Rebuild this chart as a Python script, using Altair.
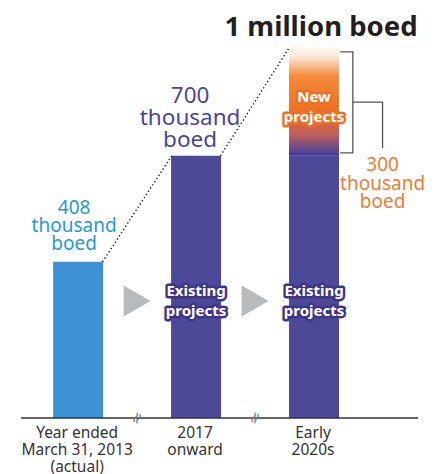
import altair as alt
import pandas as pd

# ---- data ----
categories = ["Year ended\nMarch 31, 2013\n(actual)", "2017\nonward", "Early\n2020s"]
positions = [0, 1, 2]
existing = [408, 700, 700]
new_projects = [0, 0, 300]
bar_kind = ["actual", "existing", "existing"]
value_labels = ["408\nthousand\nboed", "700\nthousand\nboed", "1 million boed"]
label_levels = [556, 864, 1051]
new_label = "300\nthousand\nboed"
new_label_level = 674
inner_labels = ["Existing\nprojects", "Existing\nprojects", "New\nprojects"]
inner_levels = [327, 327, 862]
axis_floor = -22
y_top = 1107

FONT = "Noto Sans"

xs = alt.Scale(domain=[-0.442, 2.839], nice=False, zero=False)
ys = alt.Scale(domain=[axis_floor, y_top], nice=False, zero=False)


def X(f):
    return alt.X(f, type="quantitative", scale=xs, axis=None)


def Y(f):
    return alt.Y(f, type="quantitative", scale=ys, axis=None)


bars_df = pd.DataFrame({
    "x": positions, "existing": existing, "kind": bar_kind,
    "floor": [axis_floor] * 3, "cat": categories,
})
bars_df["total"] = [e + n for e, n in zip(existing, new_projects)]

base_rule = alt.Chart(pd.DataFrame({"y": [axis_floor]})).mark_rule(
    color="#333333", strokeWidth=1.3
).encode(y=Y("y"), x=alt.value(0), x2=alt.value(397))

bars = alt.Chart(bars_df).mark_bar(size=50).encode(
    x=X("x"), y=Y("existing"), y2=alt.Y2("floor"),
    color=alt.Color("kind:N", scale=alt.Scale(domain=["actual", "existing"],
                                              range=["#3d92d5", "#4e4899"]), legend=None),
)

new_df = bars_df[bars_df["total"] > bars_df["existing"]]
grad = alt.Gradient(
    gradient="linear",
    stops=[
        alt.GradientStop(color="#fffbf8", offset=0),
        alt.GradientStop(color="#fde3d0", offset=0.1),
        alt.GradientStop(color="#f38a3c", offset=0.27),
        alt.GradientStop(color="#ef7325", offset=0.55),
        alt.GradientStop(color="#c0605a", offset=0.8),
        alt.GradientStop(color="#554895", offset=0.96),
        alt.GradientStop(color="#3b3588", offset=1),
    ],
    x1=0, x2=0, y1=0, y2=1,
)
new_bar = alt.Chart(new_df).mark_bar(size=50, color=grad).encode(
    x=X("x"), y=Y("total"), y2=alt.Y2("existing"),
)

# dotted connectors from top-right corner of one bar to top-left of the next
half = 25 / 121
dots_rows = []
tops = [e + n for e, n in zip(existing, new_projects)]
for i in range(len(positions) - 1):
    dots_rows.append({"seg": i, "o": 0, "x": positions[i] + half, "y": tops[i]})
    dots_rows.append({"seg": i, "o": 1, "x": positions[i + 1] - half, "y": tops[i + 1]})
dots = alt.Chart(pd.DataFrame(dots_rows)).mark_line(
    color="#222222", strokeWidth=1.4, strokeDash=[1.4, 2.4]
).encode(x=X("x"), y=Y("y"), detail="seg:N", order="o:Q")

# arrows and axis breaks between bars
mids = [0.5, 1.5]
arrows = alt.Chart(pd.DataFrame({"x": mids, "y": [300, 300]})).mark_point(
    shape="M-0.87,-1L0.87,0L-0.87,1Z", size=961, filled=True, color="#b9babc", opacity=1
).encode(x=X("x"), y=Y("y"))

breaks = alt.Chart(pd.DataFrame({"x": mids, "y": [axis_floor] * 2, "t": ["≈", "≈"]})).mark_text(
    font="DejaVu Sans", fontSize=16, color="#7a7a7a", angle=295, baseline="middle", align="center"
).encode(x=X("x"), y=Y("y"), text="t:N")

# bracket for the new projects
br_rows = [
    {"seg": 0, "o": 0, "x": 2.222, "y": 986},
    {"seg": 0, "o": 1, "x": 2.329, "y": 986},
    {"seg": 0, "o": 2, "x": 2.329, "y": 708},
    {"seg": 0, "o": 3, "x": 2.222, "y": 708},
    {"seg": 1, "o": 0, "x": 2.329, "y": 848},
    {"seg": 1, "o": 1, "x": 2.581, "y": 848},
    {"seg": 1, "o": 2, "x": 2.581, "y": 721},
]
bracket = alt.Chart(pd.DataFrame(br_rows)).mark_line(
    color="#555555", strokeWidth=1.3
).encode(x=X("x"), y=Y("y"), detail="seg:N", order="o:Q")

# texts
xlab = alt.Chart(bars_df).mark_text(
    font=FONT, fontSize=15.5, color="#333333", baseline="middle", align="center",
    lineBreak="\n", lineHeight=17, dy=15, dx=-1
).encode(x=X("x"), y=Y("floor"), text="cat:N")

lab_df = pd.DataFrame({"x": positions, "y": label_levels, "t": value_labels})
lab408 = alt.Chart(lab_df.iloc[[0]]).mark_text(
    font=FONT, fontSize=19, color="#1e9ad6", baseline="middle", align="center",
    lineBreak="\n", lineHeight=18, dx=-4
).encode(x=X("x"), y=Y("y"), text="t:N")
lab700 = alt.Chart(lab_df.iloc[[1]]).mark_text(
    font=FONT, fontSize=22.5, color="#4a4596", baseline="middle", align="center",
    lineBreak="\n", lineHeight=22, dx=-6
).encode(x=X("x"), y=Y("y"), text="t:N")
lab1m = alt.Chart(lab_df.iloc[[2]]).mark_text(
    font=FONT, fontSize=27.5, fontWeight="bold", color="#231f20", baseline="middle",
    align="center", dx=7
).encode(x=X("x"), y=Y("y"), text="t:N")

lab300 = alt.Chart(pd.DataFrame({"x": [2.581], "y": [new_label_level], "t": [new_label]})).mark_text(
    font=FONT, fontSize=19, color="#f07b32", baseline="middle", align="center",
    lineBreak="\n", lineHeight=18.5
).encode(x=X("x"), y=Y("y"), text="t:N")

inner_df = pd.DataFrame({
    "x": positions[1:] + [2], "y": inner_levels, "t": inner_labels,
    "c": ["existing", "existing", "new"],
})
halo_scale = alt.Scale(domain=["existing", "new"], range=["#3f3585", "#ee7124"])
inner_halo = alt.Chart(inner_df).mark_text(
    font=FONT, fontSize=15, fontWeight="bold", baseline="middle", align="center",
    lineBreak="\n", lineHeight=20, strokeWidth=5, strokeJoin="round"
).encode(
    x=X("x"), y=Y("y"), text="t:N",
    color=alt.Color("c:N", scale=halo_scale, legend=None),
    stroke=alt.Stroke("c:N", scale=halo_scale, legend=None),
)
inner_text = alt.Chart(inner_df).mark_text(
    font=FONT, fontSize=15, fontWeight="bold", baseline="middle", align="center",
    lineBreak="\n", lineHeight=20, color="white"
).encode(x=X("x"), y=Y("y"), text="t:N")

chart = alt.layer(
    bars, new_bar, base_rule, dots, arrows, breaks, bracket,
    xlab, lab408, lab700, lab1m, lab300, inner_halo, inner_text,
).resolve_scale(color="independent", stroke="independent").properties(
    width=397, height=410,
    autosize=alt.AutoSizeParams(type="none"),
    padding={"left": 13, "top": 0, "right": 20, "bottom": 56},
).configure_view(stroke=None)

chart.save("out.html", embed_options={"renderer": "svg", "actions": False})
